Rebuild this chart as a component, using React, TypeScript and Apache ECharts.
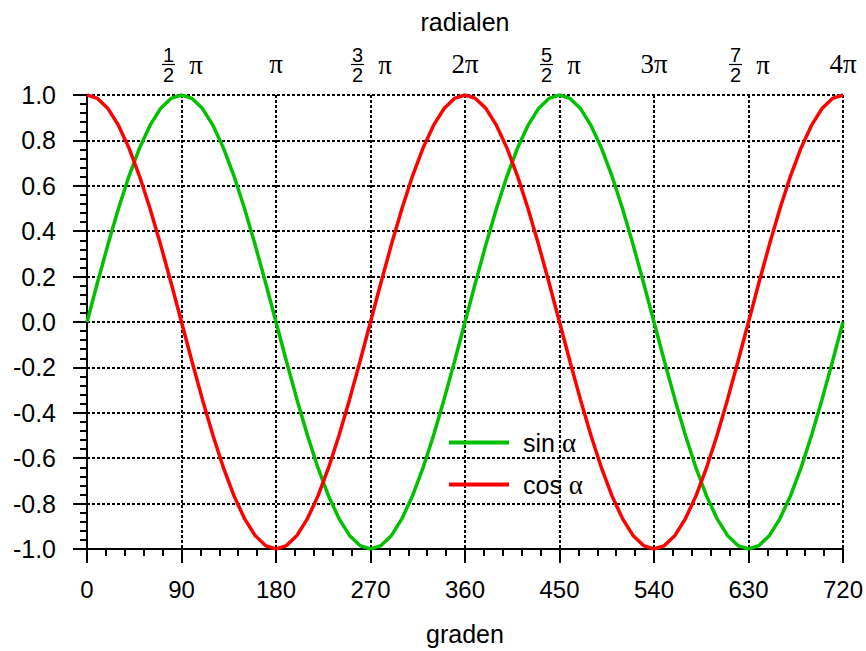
import React, { useEffect, useRef } from "react";
import * as echarts from "echarts";

const degrees = [
  0, 10, 20, 30, 40, 50, 60, 70, 80, 90, 100, 110, 120, 130, 140, 150, 160, 170,
  180, 190, 200, 210, 220, 230, 240, 250, 260, 270, 280, 290, 300, 310, 320, 330, 340, 350,
  360, 370, 380, 390, 400, 410, 420, 430, 440, 450, 460, 470, 480, 490, 500, 510, 520, 530,
  540, 550, 560, 570, 580, 590, 600, 610, 620, 630, 640, 650, 660, 670, 680, 690, 700, 710, 720,
];

const sinValues = [
  0, 0.174, 0.342, 0.5, 0.643, 0.766, 0.866, 0.94, 0.985, 1, 0.985, 0.94, 0.866, 0.766, 0.643, 0.5, 0.342, 0.174,
  0, -0.174, -0.342, -0.5, -0.643, -0.766, -0.866, -0.94, -0.985, -1, -0.985, -0.94, -0.866, -0.766, -0.643, -0.5, -0.342, -0.174,
  0, 0.174, 0.342, 0.5, 0.643, 0.766, 0.866, 0.94, 0.985, 1, 0.985, 0.94, 0.866, 0.766, 0.643, 0.5, 0.342, 0.174,
  0, -0.174, -0.342, -0.5, -0.643, -0.766, -0.866, -0.94, -0.985, -1, -0.985, -0.94, -0.866, -0.766, -0.643, -0.5, -0.342, -0.174,
  0,
];

const cosValues = [
  1, 0.985, 0.94, 0.866, 0.766, 0.643, 0.5, 0.342, 0.174, 0, -0.174, -0.342, -0.5, -0.643, -0.766, -0.866, -0.94, -0.985,
  -1, -0.985, -0.94, -0.866, -0.766, -0.643, -0.5, -0.342, -0.174, 0, 0.174, 0.342, 0.5, 0.643, 0.766, 0.866, 0.94, 0.985,
  1, 0.985, 0.94, 0.866, 0.766, 0.643, 0.5, 0.342, 0.174, 0, -0.174, -0.342, -0.5, -0.643, -0.766, -0.866, -0.94, -0.985,
  -1, -0.985, -0.94, -0.866, -0.766, -0.643, -0.5, -0.342, -0.174, 0, 0.174, 0.342, 0.5, 0.643, 0.766, 0.866, 0.94, 0.985,
  1,
];

const seriesNames = ["sin α", "cos α"];
const seriesColors = ["#00c000", "#ff0000"];

const piTicks = [180, 360, 540, 720];
const piLabels = ["π", "2π", "3π", "4π"];
const fracTicks = [90, 270, 450, 630];
const fracNumerators = ["1", "3", "5", "7"];
const fracDenominator = "2";

const SANS = "'Liberation Sans', Arial, sans-serif";
const SERIF = "'Liberation Serif', 'Times New Roman', serif";

export default function App() {
  const ref = useRef<HTMLDivElement>(null);

  useEffect(() => {
    if (!ref.current) return;
    const chart = echarts.init(ref.current, null, { renderer: "svg" });

    const grid = { color: "#000", width: 2, type: [3, 2] };

    const option: any = {
      animation: false,
      backgroundColor: "#fff",
      grid: { left: 87, right: 23, top: 95, bottom: 102 },
      legend: {
        orient: "vertical",
        left: 444,
        top: 424,
        icon: "rect",
        itemWidth: 60,
        itemHeight: 4,
        itemGap: 15,
        data: seriesNames,
        formatter: (name: string) => name.replace("α", "{g|α}"),
        textStyle: {
          fontFamily: SANS,
          fontSize: 25,
          color: "#000",
          padding: [0, 0, 0, 9],
          rich: { g: { fontFamily: SERIF, fontSize: 27, color: "#000" } },
        },
      },
      xAxis: [
        {
          type: "value",
          position: "bottom",
          min: 0,
          max: 720,
          interval: 90,
          name: "graden",
          nameLocation: "middle",
          nameGap: 72,
          nameTextStyle: { fontFamily: SANS, fontSize: 25, color: "#000" },
          axisLine: { show: true, onZero: false, lineStyle: { color: "#000", width: 2 } },
          axisTick: { show: true, length: 14, lineStyle: { color: "#000", width: 2 } },
          minorTick: { show: true, splitNumber: 5, length: 7, lineStyle: { color: "#000", width: 2 } },
          splitLine: { show: true, lineStyle: grid },
          axisLabel: { margin: 28, fontFamily: SANS, fontSize: 24, color: "#000" },
        },
        {
          type: "value",
          position: "top",
          min: 0,
          max: 720,
          interval: 90,
          name: "radialen",
          nameLocation: "middle",
          nameGap: 61,
          nameTextStyle: { fontFamily: SANS, fontSize: 25, color: "#000" },
          axisLine: { show: false },
          axisTick: { show: false },
          splitLine: { show: false },
          axisLabel: {
            margin: 18,
            fontFamily: SERIF,
            fontSize: 27,
            color: "#000",
            formatter: (v: number) => {
              const i = piTicks.indexOf(v);
              return i >= 0 ? piLabels[i] : "";
            },
          },
        },
      ],
      yAxis: {
        type: "value",
        min: -1,
        max: 1,
        interval: 0.2,
        axisLine: { show: true, onZero: false, lineStyle: { color: "#000", width: 2 } },
        axisTick: { show: true, length: 14, lineStyle: { color: "#000", width: 2 } },
        minorTick: { show: true, splitNumber: 5, length: 7, lineStyle: { color: "#000", width: 2 } },
        splitLine: { show: true, lineStyle: grid },
        axisLabel: {
          margin: 31,
          fontFamily: SANS,
          fontSize: 25,
          color: "#000",
          formatter: (v: number) => v.toFixed(1),
        },
      },
      series: [
        {
          name: seriesNames[0],
          type: "line",
          xAxisIndex: 0,
          showSymbol: false,
          symbol: "none",
          color: seriesColors[0],
          lineStyle: { width: 3.5, color: seriesColors[0] },
          data: degrees.map((d, i) => [d, sinValues[i]]),
          z: 3,
        },
        {
          name: seriesNames[1],
          type: "line",
          xAxisIndex: 0,
          showSymbol: false,
          symbol: "none",
          color: seriesColors[1],
          lineStyle: { width: 3.5, color: seriesColors[1] },
          data: degrees.map((d, i) => [d, cosValues[i]]),
          z: 3,
        },
      ],
    };

    chart.setOption(option);

    const graphics: any[] = [];
    fracTicks.forEach((v, i) => {
      const px = chart.convertToPixel({ xAxisIndex: 1 }, v) as number;
      const fx = px - 13;
      graphics.push(
        {
          type: "text",
          x: fx,
          y: 55,
          style: {
            text: fracNumerators[i],
            fontSize: 20,
            fontFamily: SANS,
            fill: "#000",
            align: "center",
            verticalAlign: "middle",
          },
        },
        {
          type: "line",
          shape: { x1: fx - 6.5, y1: 64.5, x2: fx + 6.5, y2: 64.5 },
          style: { stroke: "#000", lineWidth: 1.2 },
        },
        {
          type: "text",
          x: fx,
          y: 75,
          style: {
            text: fracDenominator,
            fontSize: 20,
            fontFamily: SANS,
            fill: "#000",
            align: "center",
            verticalAlign: "middle",
          },
        },
        {
          type: "text",
          x: px + 14.5,
          y: 65,
          style: {
            text: "π",
            fontSize: 27,
            fontFamily: SERIF,
            fill: "#000",
            align: "center",
            verticalAlign: "middle",
          },
        }
      );
    });
    chart.setOption({ graphic: graphics });

    return () => chart.dispose();
  }, []);

  return (
    <div
      ref={ref}
      style={{ position: "fixed", left: 0, top: 0, width: 866, height: 651 }}
    />
  );
}
